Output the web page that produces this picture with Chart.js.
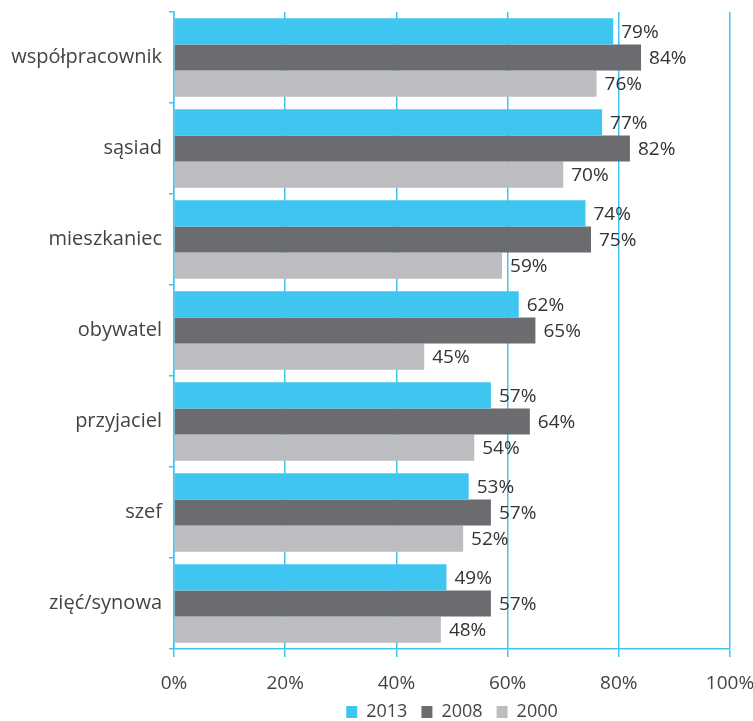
<!DOCTYPE html>
<html>
<head>
<meta charset="utf-8">
<script src="https://cdn.jsdelivr.net/npm/chart.js@4.4.1/dist/chart.umd.min.js"></script>
<style>
  html, body { margin: 0; padding: 0; background: #fff; }
  #wrap { width: 753px; height: 721px; }
</style>
</head>
<body>
<div id="wrap"><canvas id="bar-chart"></canvas></div>
<script>
var categories = ['współpracownik', 'sąsiad', 'mieszkaniec', 'obywatel', 'przyjaciel', 'szef', 'zięć/synowa'];
var values2013 = [79, 77, 74, 62, 57, 53, 49];
var values2008 = [84, 82, 75, 65, 64, 57, 57];
var values2000 = [76, 70, 59, 45, 54, 52, 48];
var tickValues = [0, 20, 40, 60, 80, 100];

var blue = '#3ec6f0';
var font = '"Open Sans", sans-serif';

// draws "79%" right after the end of each bar
var valueLabels = {
  id: 'valueLabels',
  afterDatasetsDraw: function(chart) {
    var ctx = chart.ctx;
    ctx.save();
    ctx.font = '19px ' + font;
    ctx.fillStyle = '#333';
    ctx.textBaseline = 'middle';
    ctx.textAlign = 'left';
    chart.data.datasets.forEach(function(ds, i) {
      var meta = chart.getDatasetMeta(i);
      meta.data.forEach(function(bar, j) {
        ctx.fillText(ds.data[j] + '%', bar.x + 8, bar.y + 1);
      });
    });
    ctx.restore();
  }
};

// legend padding also sets the gap between items, so keep its box short
var tightLegend = {
  id: 'tightLegend',
  beforeLayout: function(chart) {
    var legend = chart.legend;
    if (legend && !legend._tight) {
      var fit = legend.fit;
      legend.fit = function() {
        fit.call(this);
        this.height = 28;
      };
      legend._tight = true;
    }
  },
  afterLayout: function(chart) {
    chart.legend.top -= 4;
  }
};

var ctx = document.getElementById('bar-chart');
var myChart = new Chart(ctx, {
  type: 'bar',
  data: {
    labels: categories,
    datasets: [
      { label: '2013', data: values2013, backgroundColor: blue },
      { label: '2008', data: values2008, backgroundColor: '#6b6c70' },
      { label: '2000', data: values2000, backgroundColor: '#bcbdc0' }
    ]
  },
  options: {
    indexAxis: 'y',
    responsive: true,
    maintainAspectRatio: false,
    animation: false,
    categoryPercentage: 0.86,
    barPercentage: 1.0,
    layout: { padding: { left: 4, right: 0, top: 12, bottom: 0 } },
    scales: {
      x: {
        min: 0,
        max: 100,
        afterBuildTicks: function(axis) {
          axis.ticks = tickValues.map(function(v) { return { value: v }; });
        },
        afterFit: function(axis) {
          axis.paddingRight = 23;
          axis.height = 44;
        },
        grid: { color: blue, lineWidth: 1.5, tickLength: 8, drawTicks: true },
        border: { color: blue, width: 1.5 },
        ticks: {
          color: '#444',
          padding: 15,
          maxRotation: 0,
          font: { family: font, size: 19 },
          callback: function(v) { return v + '%'; }
        }
      },
      y: {
        afterFit: function(axis) {
          axis.width = 170;
          axis.paddingTop = 0;
          axis.paddingBottom = 0;
        },
        grid: { color: blue, lineWidth: 1.5, drawOnChartArea: false, tickLength: 5 },
        border: { color: blue, width: 1.5 },
        ticks: {
          color: '#444',
          padding: 7,
          font: { family: font, size: 20 }
        }
      }
    },
    plugins: {
      legend: {
        position: 'bottom',
        fullSize: false,
        labels: {
          color: '#444',
          boxWidth: 11,
          boxHeight: 12,
          padding: 14,
          font: { family: font, size: 18 }
        }
      },
      tooltip: { enabled: false }
    }
  },
  plugins: [valueLabels, tightLegend]
});
</script>
</body>
</html>
